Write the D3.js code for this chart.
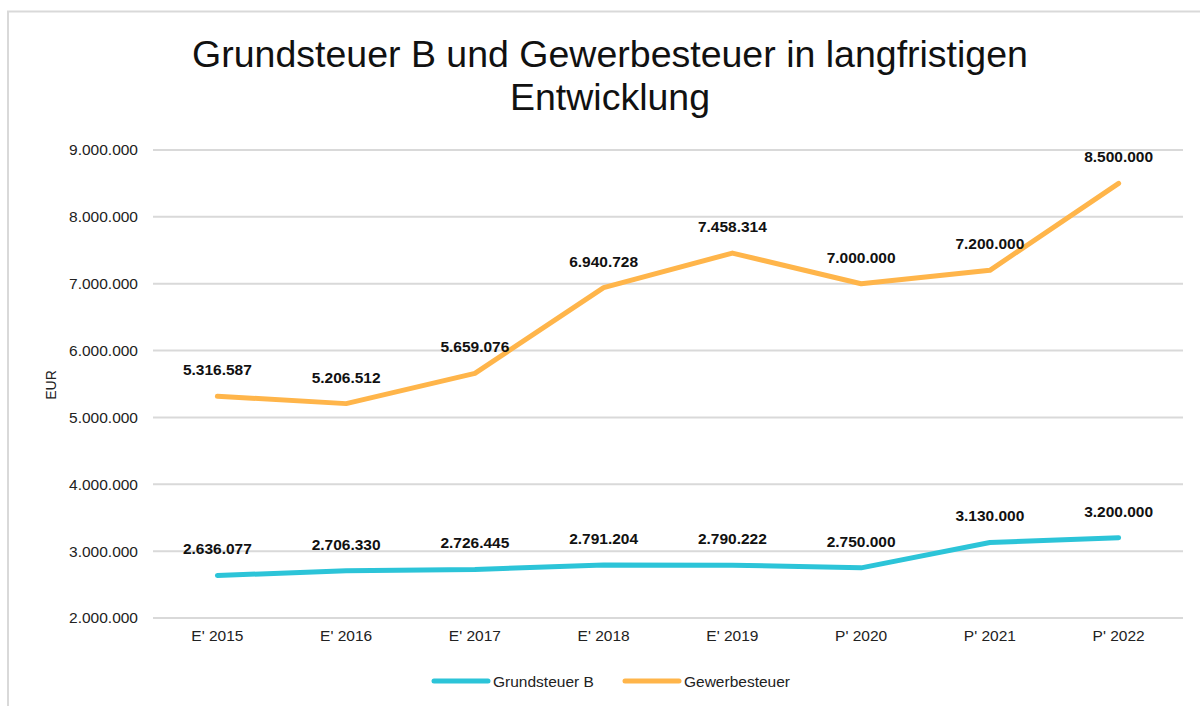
<!DOCTYPE html>
<html>
<head>
<meta charset="utf-8">
<script src="https://cdn.jsdelivr.net/npm/d3@7"></script>
<style>
  body { margin: 0; background: #fff; }
  svg { display: block; font-family: "Liberation Sans", Arial, sans-serif; }
</style>
</head>
<body>
<svg id="chart" width="1200" height="707"></svg>
<script>
// categories + values
const categories = ["E' 2015", "E' 2016", "E' 2017", "E' 2018", "E' 2019", "P' 2020", "P' 2021", "P' 2022"];
const grundsteuerB = [2636077, 2706330, 2726445, 2791204, 2790222, 2750000, 3130000, 3200000];
const gewerbesteuer = [5316587, 5206512, 5659076, 6940728, 7458314, 7000000, 7200000, 8500000];
const yTicks = [2000000, 3000000, 4000000, 5000000, 6000000, 7000000, 8000000, 9000000];

const seriesNames = ["Grundsteuer B", "Gewerbesteuer"];
const seriesColors = ["#2cc4d8", "#ffb54a"];

const svg = d3.select("#chart");

// outer frame (chart area border)
svg.append("path")
    .attr("d", "M8,706 V11.5 H1200")
    .attr("fill", "none")
    .attr("stroke", "#d9d9d9")
    .attr("stroke-width", 2);

const margin = {left: 153, right: 1183, top: 150, bottom: 618};

const x = d3.scaleBand()
    .domain(categories)
    .range([margin.left, margin.right]);

const y = d3.scaleLinear()
    .domain([2000000, 9000000])
    .range([margin.bottom, margin.top]);

const fmt = d3.formatLocale({decimal: ",", thousands: ".", grouping: [3], currency: ["", " €"]}).format(",d");

// gridlines
svg.append("g")
    .selectAll("line")
    .data(yTicks)
    .join("line")
    .attr("x1", margin.left)
    .attr("x2", margin.right)
    .attr("y1", d => y(d))
    .attr("y2", d => y(d))
    .attr("stroke", "#d9d9d9")
    .attr("stroke-width", 2);

// y axis labels
const yAxis = d3.axisLeft(y).tickValues(yTicks).tickFormat(fmt).tickSize(0).tickPadding(15);
svg.append("g")
    .attr("transform", `translate(${margin.left},0)`)
    .call(yAxis)
    .call(g => g.select(".domain").remove())
    .call(g => g.selectAll("text")
        .attr("font-size", 15.5)
        .attr("font-family", "Liberation Sans, Arial, sans-serif")
        .attr("fill", "#222"));

// x axis labels
const xAxis = d3.axisBottom(x).tickSize(0).tickPadding(12);
svg.append("g")
    .attr("transform", `translate(0,${margin.bottom})`)
    .call(xAxis)
    .call(g => g.select(".domain").remove())
    .call(g => g.selectAll("text")
        .attr("font-size", 15.5)
        .attr("font-family", "Liberation Sans, Arial, sans-serif")
        .attr("fill", "#222"));

// y axis title
svg.append("text")
    .attr("transform", "translate(56,385) rotate(-90)")
    .attr("text-anchor", "middle")
    .attr("font-size", 14)
    .attr("fill", "#222")
    .text("EUR");

// title
svg.append("text")
    .attr("x", 610)
    .attr("y", 67)
    .attr("text-anchor", "middle")
    .attr("font-size", 37.5)
    .attr("fill", "#111")
    .text("Grundsteuer B und Gewerbesteuer in langfristigen");
svg.append("text")
    .attr("x", 610)
    .attr("y", 110)
    .attr("text-anchor", "middle")
    .attr("font-size", 37.5)
    .attr("fill", "#111")
    .text("Entwicklung");

const line = d3.line()
    .x((d, i) => x(categories[i]) + x.bandwidth() / 2)
    .y(d => y(d));

[grundsteuerB, gewerbesteuer].forEach((vals, si) => {
    svg.append("path")
        .datum(vals)
        .attr("d", line)
        .attr("fill", "none")
        .attr("stroke", seriesColors[si])
        .attr("stroke-width", 5)
        .attr("stroke-linecap", "round")
        .attr("stroke-linejoin", "round");

    svg.append("g")
        .selectAll("text")
        .data(vals)
        .join("text")
        .attr("x", (d, i) => x(categories[i]) + x.bandwidth() / 2)
        .attr("y", d => y(d) - 21)
        .attr("text-anchor", "middle")
        .attr("font-size", 15.5)
        .attr("font-weight", "bold")
        .attr("fill", "#111")
        .text(d => fmt(d));
});

// legend
const legendX = [434, 625];
const legend = svg.append("g");
seriesNames.forEach((name, i) => {
    legend.append("line")
        .attr("x1", legendX[i])
        .attr("x2", legendX[i] + 54)
        .attr("y1", 681)
        .attr("y2", 681)
        .attr("stroke", seriesColors[i])
        .attr("stroke-width", 5)
        .attr("stroke-linecap", "round");
    legend.append("text")
        .attr("x", legendX[i] + 59)
        .attr("y", 686.5)
        .attr("font-size", 15.5)
        .attr("fill", "#222")
        .text(name);
});
</script>
</body>
</html>
